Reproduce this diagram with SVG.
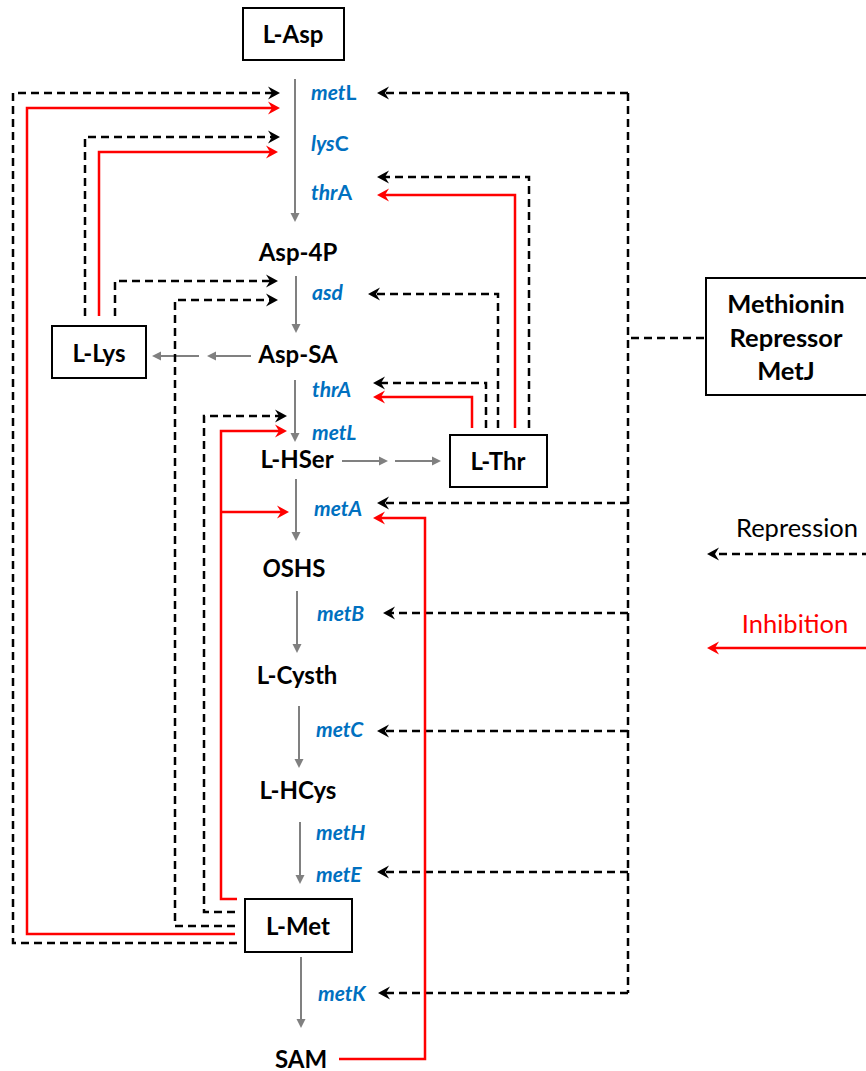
<svg xmlns="http://www.w3.org/2000/svg" width="866" height="1071" viewBox="0 0 866 1071">
<style>
  .box { fill: #ffffff; stroke: #000000; stroke-width: 2; }
  .node { font-family: Lato, "Liberation Sans", sans-serif; font-weight: bold; font-size: 24px; fill: #000000; text-anchor: middle; }
  .big { font-size: 25.5px; }
  .gene { font-family: Lato, "Liberation Sans", sans-serif; font-weight: bold; font-size: 21px; fill: #0070C0; }
  .it { font-style: italic; }
  .leg { font-family: Lato, "Liberation Sans", sans-serif; font-size: 25.5px; text-anchor: middle; }
  .rep { fill: none; stroke: #000000; stroke-width: 2.5; stroke-dasharray: 8 5; marker-end: url(#mRep); }
  .repn { fill: none; stroke: #000000; stroke-width: 2.5; stroke-dasharray: 8 5; }
  .inh { fill: none; stroke: #ff0000; stroke-width: 2.5; marker-end: url(#mInh); }
  .flow { fill: none; stroke: #808080; stroke-width: 2; marker-end: url(#mFlow); }
</style>
<defs>
  <marker id="mRep" markerUnits="userSpaceOnUse" markerWidth="14" markerHeight="14" refX="4" refY="0" orient="auto" overflow="visible">
    <path d="M0,-6.5 L12,0 L0,6.5 L4,0 Z" fill="#000000"/>
  </marker>
  <marker id="mInh" markerUnits="userSpaceOnUse" markerWidth="14" markerHeight="14" refX="4" refY="0" orient="auto" overflow="visible">
    <path d="M0,-6.5 L12,0 L0,6.5 L4,0 Z" fill="#ff0000"/>
  </marker>
  <marker id="mFlow" markerUnits="userSpaceOnUse" markerWidth="10" markerHeight="10" refX="0" refY="0" orient="auto" overflow="visible">
    <path d="M0,-4.5 L9,0 L0,4.5 Z" fill="#808080"/>
  </marker>
</defs>

<g id="connectors">
  <!-- main pathway flow -->
  <path class="flow" d="M295,79 V213"/>
  <path class="flow" d="M296,276 V324"/>
  <path class="flow" d="M295,380 V433"/>
  <path class="flow" d="M296,479 V532"/>
  <path class="flow" d="M297,591 V644"/>
  <path class="flow" d="M299,706 V759"/>
  <path class="flow" d="M300,822 V875"/>
  <path class="flow" d="M301,957 V1019"/>
  <path class="flow" d="M251,356 H216"/>
  <path class="flow" d="M199,356 H161"/>
  <path class="flow" d="M342,461 H379"/>
  <path class="flow" d="M395,461 H432"/>

  <!-- repression from L-Met -->
  <path class="rep" d="M237,943 H13 V93 H272"/>
  <path class="rep" d="M235,926 H175 V300 H270"/>
  <path class="rep" d="M235,912 H204 V416 H279"/>
  <!-- repression from L-Lys -->
  <path class="rep" d="M85,316 V137 H272"/>
  <path class="rep" d="M115,316 V281 H270"/>
  <!-- repression from L-Thr -->
  <path class="rep" d="M529,428 V177 H385"/>
  <path class="rep" d="M498,428 V294 H376"/>
  <path class="rep" d="M486,428 V383 H381"/>
  <!-- MetJ repression -->
  <path class="repn" d="M704,338 H628"/>
  <path class="repn" d="M628,93 V993"/>
  <path class="rep" d="M628,93 H385"/>
  <path class="rep" d="M628,503 H385"/>
  <path class="rep" d="M628,613 H391"/>
  <path class="rep" d="M628,731 H385"/>
  <path class="rep" d="M628,872 H385"/>
  <path class="rep" d="M628,993 H386"/>

  <!-- inhibition -->
  <path class="inh" d="M235,934 H27 V108 H272"/>
  <path class="inh" d="M99,316 V152 H270"/>
  <path class="inh" d="M515,428 V195 H385"/>
  <path class="inh" d="M472,428 V397 H381"/>
  <path class="inh" d="M237,899 H221 V431 H279"/>
  <path class="inh" d="M221,512 H281"/>
  <path class="inh" d="M339,1059 H425 V518 H381"/>

  <!-- legend arrows -->
  <path class="rep" d="M870,554 H715"/>
  <path class="inh" d="M870,648 H715"/>
</g>

<g id="L-Asp">
  <rect class="box" x="243" y="8" width="101" height="52"/>
  <text class="node" x="293" y="43">L-Asp</text>
</g>
<g id="Asp-4P"><text class="node" x="298" y="261">Asp-4P</text></g>
<g id="Asp-SA"><text class="node" x="298" y="363">Asp-SA</text></g>
<g id="L-Lys">
  <rect class="box" x="52" y="326" width="94" height="52"/>
  <text class="node" x="99" y="362">L-Lys</text>
</g>
<g id="L-HSer"><text class="node" x="297" y="468">L-HSer</text></g>
<g id="L-Thr">
  <rect class="box" x="450" y="435" width="97" height="52"/>
  <text class="node" x="498" y="470">L-Thr</text>
</g>
<g id="OSHS"><text class="node" x="294" y="577"><tspan class="it">O</tspan>SHS</text></g>
<g id="L-Cysth"><text class="node" x="297" y="684">L-Cysth</text></g>
<g id="L-HCys"><text class="node" x="298" y="799">L-HCys</text></g>
<g id="L-Met">
  <rect class="box" x="245" y="899" width="107" height="53"/>
  <text class="node" x="298" y="935">L-Met</text>
</g>
<g id="SAM"><text class="node" x="301" y="1068">SAM</text></g>
<g id="MetJ">
  <rect class="box" x="706" y="278" width="170" height="117"/>
  <text class="node big" x="786" y="313">Methionin</text>
  <text class="node big" x="786" y="347">Repressor</text>
  <text class="node big" x="786" y="380">MetJ</text>
</g>

<g id="genes">
  <text class="gene" x="311" y="100"><tspan class="it">met</tspan>L</text>
  <text class="gene" x="311" y="151"><tspan class="it">lys</tspan>C</text>
  <text class="gene" x="311" y="200"><tspan class="it">thr</tspan>A</text>
  <text class="gene it" x="312" y="300">asd</text>
  <text class="gene it" x="312" y="397">thrA</text>
  <text class="gene it" x="312" y="440">metL</text>
  <text class="gene it" x="314" y="516">metA</text>
  <text class="gene it" x="317" y="621">metB</text>
  <text class="gene it" x="316" y="737">metC</text>
  <text class="gene it" x="316" y="840">metH</text>
  <text class="gene it" x="316" y="882">metE</text>
  <text class="gene it" x="318" y="1001">metK</text>
</g>

<g id="legend">
  <text class="leg" x="797" y="537" fill="#000000">Repression</text>
  <text class="leg" x="795" y="633" fill="#ff0000">Inhibition</text>
</g>
</svg>
